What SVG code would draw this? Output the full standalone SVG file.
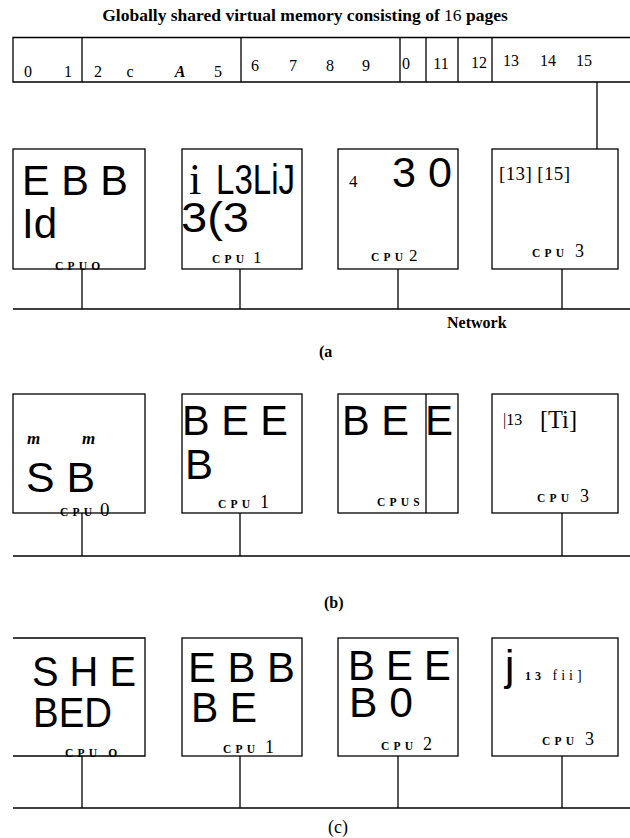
<svg xmlns="http://www.w3.org/2000/svg" width="630" height="838" viewBox="0 0 630 838">
<style>
.ln{stroke:#000;stroke-width:1.3;fill:none}
.box{stroke:#000;stroke-width:1.3;fill:#fff}
.t{font-family:"Liberation Serif",serif;fill:#000}
.num{font-family:"Liberation Serif",serif;font-size:16px;text-anchor:middle;fill:#000}
.big{font-family:"Liberation Sans",Arial,sans-serif;font-size:42px;fill:#000}
.cpu{font-family:"Liberation Serif",serif;font-size:11.5px;font-weight:bold;letter-spacing:4.2px;fill:#000}
.cn{font-family:"Liberation Serif",serif;font-size:17px;fill:#000}
.lbl{font-family:"Liberation Serif",serif;font-size:16px;font-weight:bold;fill:#000}
</style>
<text class="lbl" x="305" y="21" text-anchor="middle" style="font-size:17.5px">Globally shared virtual memory consisting of <tspan font-weight="normal">16</tspan> pages</text>
<g id="memory">
<path class="ln" d="M630,37.5 H13 V82 H630 M82,37.5 V82 M241,37.5 V82 M400,37.5 V82 M426,37.5 V82 M458,37.5 V82 M492,37.5 V82"/>
<text class="num" x="28" y="77">0</text>
<text class="num" x="68" y="77">1</text>
<text class="num" x="98" y="77">2</text>
<text class="num" x="130" y="77">c</text>
<text class="num" x="180" y="77" font-weight="bold" font-style="italic">A</text>
<text class="num" x="218" y="77">5</text>
<text class="num" x="255" y="71">6</text>
<text class="num" x="293" y="71">7</text>
<text class="num" x="330" y="71">8</text>
<text class="num" x="366" y="71">9</text>
<text class="num" x="406" y="69">0</text>
<text class="num" x="441" y="69">11</text>
<text class="num" x="479" y="68">12</text>
<text class="num" x="511" y="66">13</text>
<text class="num" x="548" y="66">14</text>
<text class="num" x="584" y="66">15</text>
</g>
<g id="connectors">
<path class="ln" d="M597,82 V149"/>
<path class="ln" d="M13,309 H630 M82,269 V309 M240,269 V309 M398,269 V309 M562,269 V309"/>
<path class="ln" d="M13,556 H630 M82,513 V556 M240,513 V556 M562,513 V556"/>
<path class="ln" d="M13,808 H630 M82,756 V808 M240,756 V808 M398,756 V808 M562,756 V808"/>
</g>
<g id="panel-a">
<g id="a-cpu0">
<rect class="box" x="13" y="149" width="132" height="120"/>
<text class="big" x="22" y="195" textLength="106" lengthAdjust="spacingAndGlyphs">E B B</text>
<text class="big" x="22" y="238">Id</text>
<text class="cpu" x="55" y="270">CPUO</text>
</g>
<g id="a-cpu1">
<rect class="box" x="182" y="149" width="120" height="120"/>
<text class="t" x="189" y="194" style="font-size:44px">i</text>
<text class="big" x="216" y="194" textLength="79" lengthAdjust="spacingAndGlyphs">L3LiJ</text>
<text class="big" x="181" y="232" textLength="68" lengthAdjust="spacingAndGlyphs">3(3</text>
<text class="cpu" x="212" y="263">CPU</text>
<text class="cn" x="253" y="263">1</text>
</g>
<g id="a-cpu2">
<rect class="box" x="338" y="149" width="120" height="120"/>
<text class="cn" x="349" y="187">4</text>
<text class="big" x="392" y="187" textLength="60" lengthAdjust="spacingAndGlyphs">3 0</text>
<text class="cpu" x="371" y="261">CPU</text>
<text class="cn" x="409" y="261">2</text>
</g>
<g id="a-cpu3">
<rect class="box" x="492" y="149" width="126" height="120"/>
<text class="t" x="499" y="180" style="font-size:19px" textLength="71" lengthAdjust="spacing">[13] [15]</text>
<text class="cpu" x="532" y="257">CPU</text>
<text class="cn" x="575" y="257" style="font-size:18px">3</text>
</g>
<text class="lbl" x="447" y="328">Network</text>
<text class="lbl" x="319" y="357">(a</text>
</g>
<g id="panel-b">
<g id="b-cpu0">
<rect class="box" x="13" y="394" width="132" height="119"/>
<text class="t" x="27" y="444" style="font-size:17px;font-weight:bold;font-style:italic">m</text>
<text class="t" x="82" y="444" style="font-size:17px;font-weight:bold;font-style:italic">m</text>
<text class="big" x="26" y="492" textLength="69" lengthAdjust="spacingAndGlyphs">S B</text>
<text class="cpu" x="60" y="516">CPU</text>
<text class="cn" x="100" y="516" style="font-size:19px">0</text>
</g>
<g id="b-cpu1">
<rect class="box" x="182" y="394" width="120" height="119"/>
<text class="big" x="182" y="435" textLength="106" lengthAdjust="spacingAndGlyphs">B E E</text>
<text class="big" x="185" y="479">B</text>
<text class="cpu" x="218" y="508">CPU</text>
<text class="cn" x="260" y="508" style="font-size:18px">1</text>
</g>
<g id="b-cpu2">
<rect class="box" x="338" y="394" width="120" height="119"/>
<path class="ln" d="M426,394 V513"/>
<text class="big" x="342" y="435" textLength="67" lengthAdjust="spacingAndGlyphs">B E</text>
<text class="big" x="425" y="435">E</text>
<text class="cpu" x="377" y="506">CPUS</text>
</g>
<g id="b-cpu3">
<rect class="box" x="492" y="394" width="126" height="119"/>
<text class="t" x="503" y="425" style="font-size:16px">|13</text>
<text class="t" x="540" y="428" style="font-size:26px" textLength="37" lengthAdjust="spacingAndGlyphs">[Ti]</text>
<text class="cpu" x="537" y="502">CPU</text>
<text class="cn" x="580" y="502" style="font-size:18px">3</text>
</g>
<text class="lbl" x="324" y="608">(b)</text>
</g>
<g id="panel-c">
<g id="c-cpu0">
<rect x="13" y="638" width="132" height="118" fill="#fff"/>
<path class="ln" d="M13,638 H145 V756 H13"/>
<text class="big" x="32" y="686" textLength="104" lengthAdjust="spacingAndGlyphs">S H E</text>
<text class="big" x="33" y="727" textLength="79" lengthAdjust="spacingAndGlyphs">BED</text>
<text class="cpu" x="65" y="757">CPU O</text>
</g>
<g id="c-cpu1">
<rect class="box" x="182" y="638" width="120" height="118"/>
<text class="big" x="188" y="682" textLength="107" lengthAdjust="spacingAndGlyphs">E B B</text>
<text class="big" x="191" y="722" textLength="66" lengthAdjust="spacingAndGlyphs">B E</text>
<text class="cpu" x="223" y="753">CPU</text>
<text class="cn" x="265" y="753" style="font-size:18px">1</text>
</g>
<g id="c-cpu2">
<rect class="box" x="338" y="638" width="120" height="118"/>
<text class="big" x="348" y="680" textLength="103" lengthAdjust="spacingAndGlyphs">B E E</text>
<text class="big" x="349" y="717" textLength="64" lengthAdjust="spacingAndGlyphs">B 0</text>
<text class="cpu" x="381" y="750">CPU</text>
<text class="cn" x="423" y="750" style="font-size:18px">2</text>
</g>
<g id="c-cpu3">
<rect class="box" x="492" y="638" width="126" height="118"/>
<text class="big" x="505" y="680">j</text>
<text class="t" x="525" y="680" style="font-size:14px;letter-spacing:4px"><tspan style="font-weight:bold;font-size:12px">13</tspan> fii]</text>
<text class="cpu" x="542" y="745">CPU</text>
<text class="cn" x="585" y="745" style="font-size:18px">3</text>
</g>
<text class="t" x="328" y="833" style="font-size:18px">(c)</text>
</g>
</svg>
